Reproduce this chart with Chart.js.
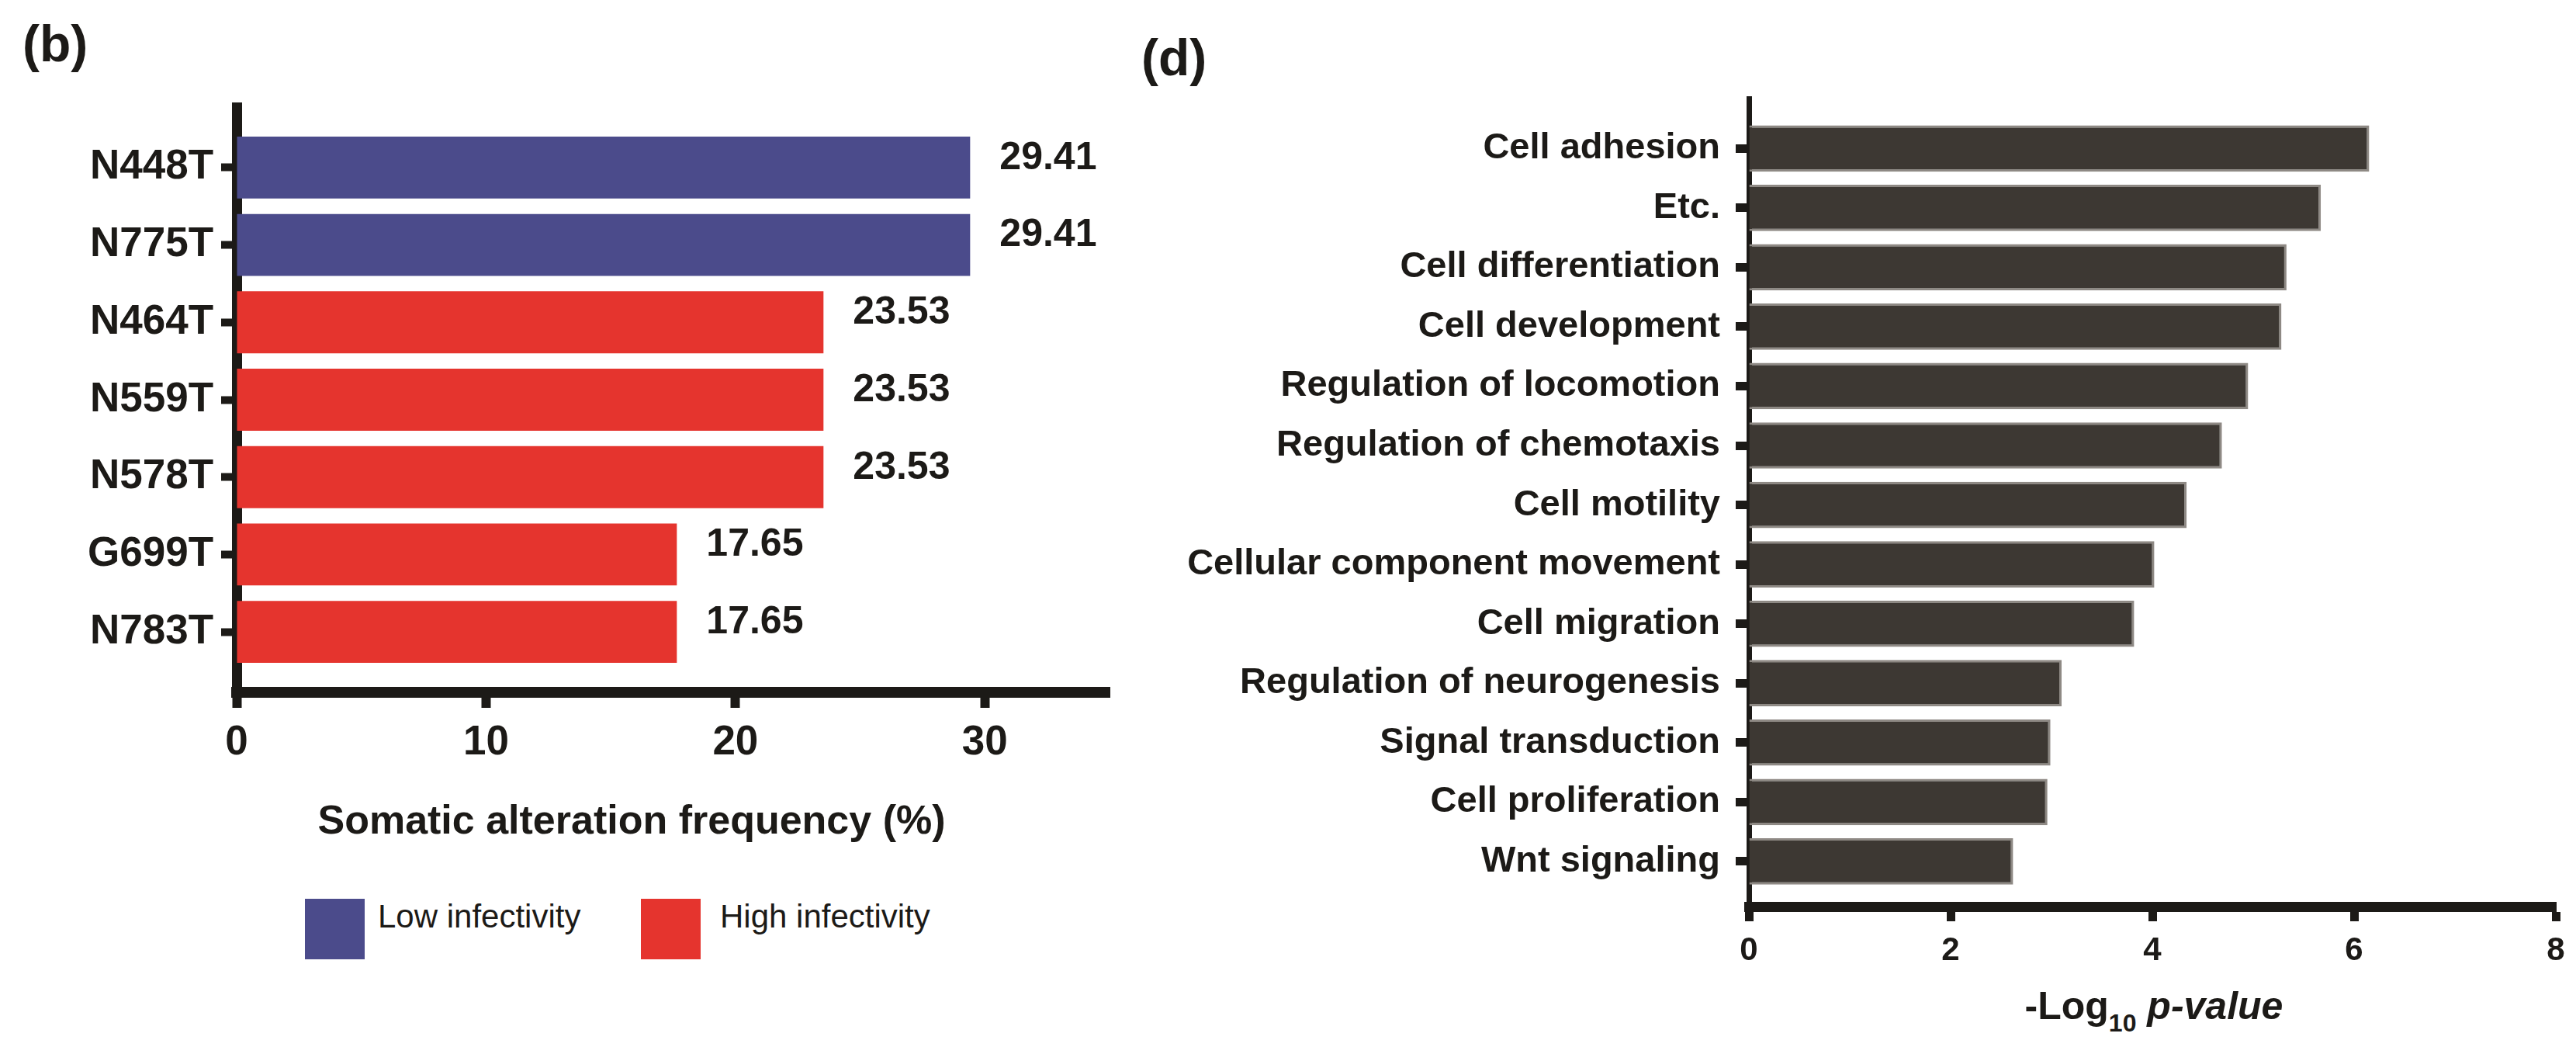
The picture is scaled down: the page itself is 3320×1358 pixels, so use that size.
<!DOCTYPE html>
<html>
<head>
<meta charset="utf-8">
<script src="https://cdn.jsdelivr.net/npm/chart.js@4.4.1/dist/chart.umd.min.js"></script>
<style>
  html, body { margin: 0; padding: 0; background: #fff; }
  body { width: 3320px; height: 1358px; position: relative; overflow: hidden;
         font-family: "Liberation Sans", Arial, sans-serif; color: #1c1a17; }
  canvas { position: absolute; top: 0; }
  .txt { position: absolute; white-space: nowrap; line-height: 1; font-weight: bold; }
  .panel { font-size: 66px; }
  .box { position: absolute; width: 77px; height: 78px; }
  .leg { position: absolute; white-space: nowrap; line-height: 1; font-size: 42px; }
  sub { font-size: 32px; vertical-align: -16px; line-height: 1; }
</style>
</head>
<body>
<div class="txt panel" style="left:29px; top:23px;">(b)</div>
<div class="txt panel" style="left:1471px; top:41px;">(d)</div>

<canvas id="freqChart" width="1500" height="1000" style="left:0;"></canvas>
<canvas id="goChart" width="1820" height="1260" style="left:1500px;"></canvas>

<div class="txt" style="left:314px; width:1000px; text-align:center; top:1030px; font-size:52px;">Somatic alteration frequency (%)</div>
<div class="box" style="left:393px; top:1158px; background:#4b4b8b;"></div>
<div class="leg" style="left:487px; top:1160px;">Low infectivity</div>
<div class="box" style="left:826px; top:1158px; background:#e5342e;"></div>
<div class="leg" style="left:928px; top:1160px;">High infectivity</div>

<div class="txt" style="left:2576px; width:400px; text-align:center; top:1271px; font-size:50px;">-Log<sub>10</sub> <i>p-value</i></div>

<script>
// panel (b): somatic alteration frequency
const mutations = ['N448T', 'N775T', 'N464T', 'N559T', 'N578T', 'G699T', 'N783T'];
const alterationFreq = [29.41, 29.41, 23.53, 23.53, 23.53, 17.65, 17.65];
const infectivity = ['Low', 'Low', 'High', 'High', 'High', 'High', 'High'];
const freqTicks = [0, 10, 20, 30];

// panel (d): GO terms
const goTerms = ['Cell adhesion', 'Etc.', 'Cell differentiation', 'Cell development',
  'Regulation of locomotion', 'Regulation of chemotaxis', 'Cell motility',
  'Cellular component movement', 'Cell migration', 'Regulation of neurogenesis',
  'Signal transduction', 'Cell proliferation', 'Wnt signaling'];
const negLogP = [6.15, 5.67, 5.33, 5.28, 4.95, 4.69, 4.34, 4.02, 3.82, 3.10, 2.99, 2.96, 2.62];
const pTicks = [0, 2, 4, 6, 8];

const INK = '#1c1a17';
const FONT = '"Liberation Sans", Arial, sans-serif';
const groupColor = { Low: '#4b4b8b', High: '#e5342e' };

// value printed to the right of each bar in panel (b)
const valueLabels = {
  id: 'valueLabels',
  afterDatasetsDraw(chart) {
    const ctx = chart.ctx;
    const meta = chart.getDatasetMeta(0);
    ctx.save();
    ctx.font = 'bold 50px ' + FONT;
    ctx.fillStyle = INK;
    ctx.textAlign = 'left';
    ctx.textBaseline = 'middle';
    meta.data.forEach((bar, i) => {
      ctx.fillText(alterationFreq[i].toFixed(2), bar.x + 38, bar.y - 12);
    });
    ctx.restore();
  }
};

new Chart(document.getElementById('freqChart'), {
  type: 'bar',
  data: {
    datasets: [{
      data: alterationFreq.map((v, i) => ({ x: v, y: i })),
      backgroundColor: infectivity.map(g => groupColor[g]),
      borderWidth: 0,
      barPercentage: 0.8,
      categoryPercentage: 1
    }]
  },
  options: {
    indexAxis: 'y',
    responsive: false,
    animation: false,
    devicePixelRatio: 1,
    layout: { padding: { top: 138, right: 70, left: 0, bottom: 0 } },
    plugins: { legend: { display: false }, tooltip: { enabled: false } },
    scales: {
      x: {
        type: 'linear', min: 0, max: 35, z: 1,
        afterBuildTicks: s => { s.ticks = freqTicks.map(v => ({ value: v })); },
        afterFit: s => { s.height = 108; },
        border: { display: true, color: INK, width: 14 },
        grid: { drawOnChartArea: false, tickLength: 20, tickWidth: 12, tickColor: INK },
        ticks: { color: INK, font: { family: FONT, size: 53, weight: 'bold' }, padding: 14, maxRotation: 0 }
      },
      y: {
        type: 'linear', reverse: true, min: -0.78, max: 6.78, z: 1, offset: false,
        afterBuildTicks: s => { s.ticks = mutations.map((_, i) => ({ value: i })); },
        afterFit: s => { s.width = 305; },
        border: { display: true, color: INK, width: 13 },
        grid: { offset: false, drawOnChartArea: false, tickLength: 20, tickWidth: 10, tickColor: INK },
        ticks: { callback: v => mutations[v], autoSkip: false, color: INK,
                 font: { family: FONT, size: 53, weight: 'bold' }, padding: 10 }
      }
    }
  },
  plugins: [valueLabels]
});

new Chart(document.getElementById('goChart'), {
  type: 'bar',
  data: {
    datasets: [{
      data: negLogP.map((v, i) => ({ x: v, y: i })),
      backgroundColor: '#3d3833',
      borderColor: '#8e8984',
      borderWidth: 3,
      barPercentage: 0.78,
      categoryPercentage: 1
    }]
  },
  options: {
    indexAxis: 'y',
    responsive: false,
    animation: false,
    devicePixelRatio: 1,
    layout: { padding: { top: 127, right: 26, left: 0, bottom: 0 } },
    plugins: { legend: { display: false }, tooltip: { enabled: false } },
    scales: {
      x: {
        type: 'linear', min: 0, max: 8, z: 1,
        afterBuildTicks: s => { s.ticks = pTicks.map(v => ({ value: v })); },
        afterFit: s => { s.height = 92; },
        border: { display: true, color: INK, width: 13 },
        grid: { drawOnChartArea: false, tickLength: 19, tickWidth: 11, tickColor: INK },
        ticks: { color: INK, font: { family: FONT, size: 42, weight: 'bold' }, padding: 13, maxRotation: 0 }
      },
      y: {
        type: 'linear', reverse: true, min: -0.84, max: 12.76, z: 1, offset: false,
        afterBuildTicks: s => { s.ticks = goTerms.map((_, i) => ({ value: i })); },
        afterFit: s => { s.width = 754; },
        border: { display: true, color: INK, width: 7 },
        grid: { offset: false, drawOnChartArea: false, tickLength: 17, tickWidth: 11, tickColor: INK },
        ticks: { callback: v => goTerms[v], autoSkip: false, color: INK,
                 font: { family: FONT, size: 47, weight: 'bold' }, padding: 20 }
      }
    }
  }
});
</script>
</body>
</html>
